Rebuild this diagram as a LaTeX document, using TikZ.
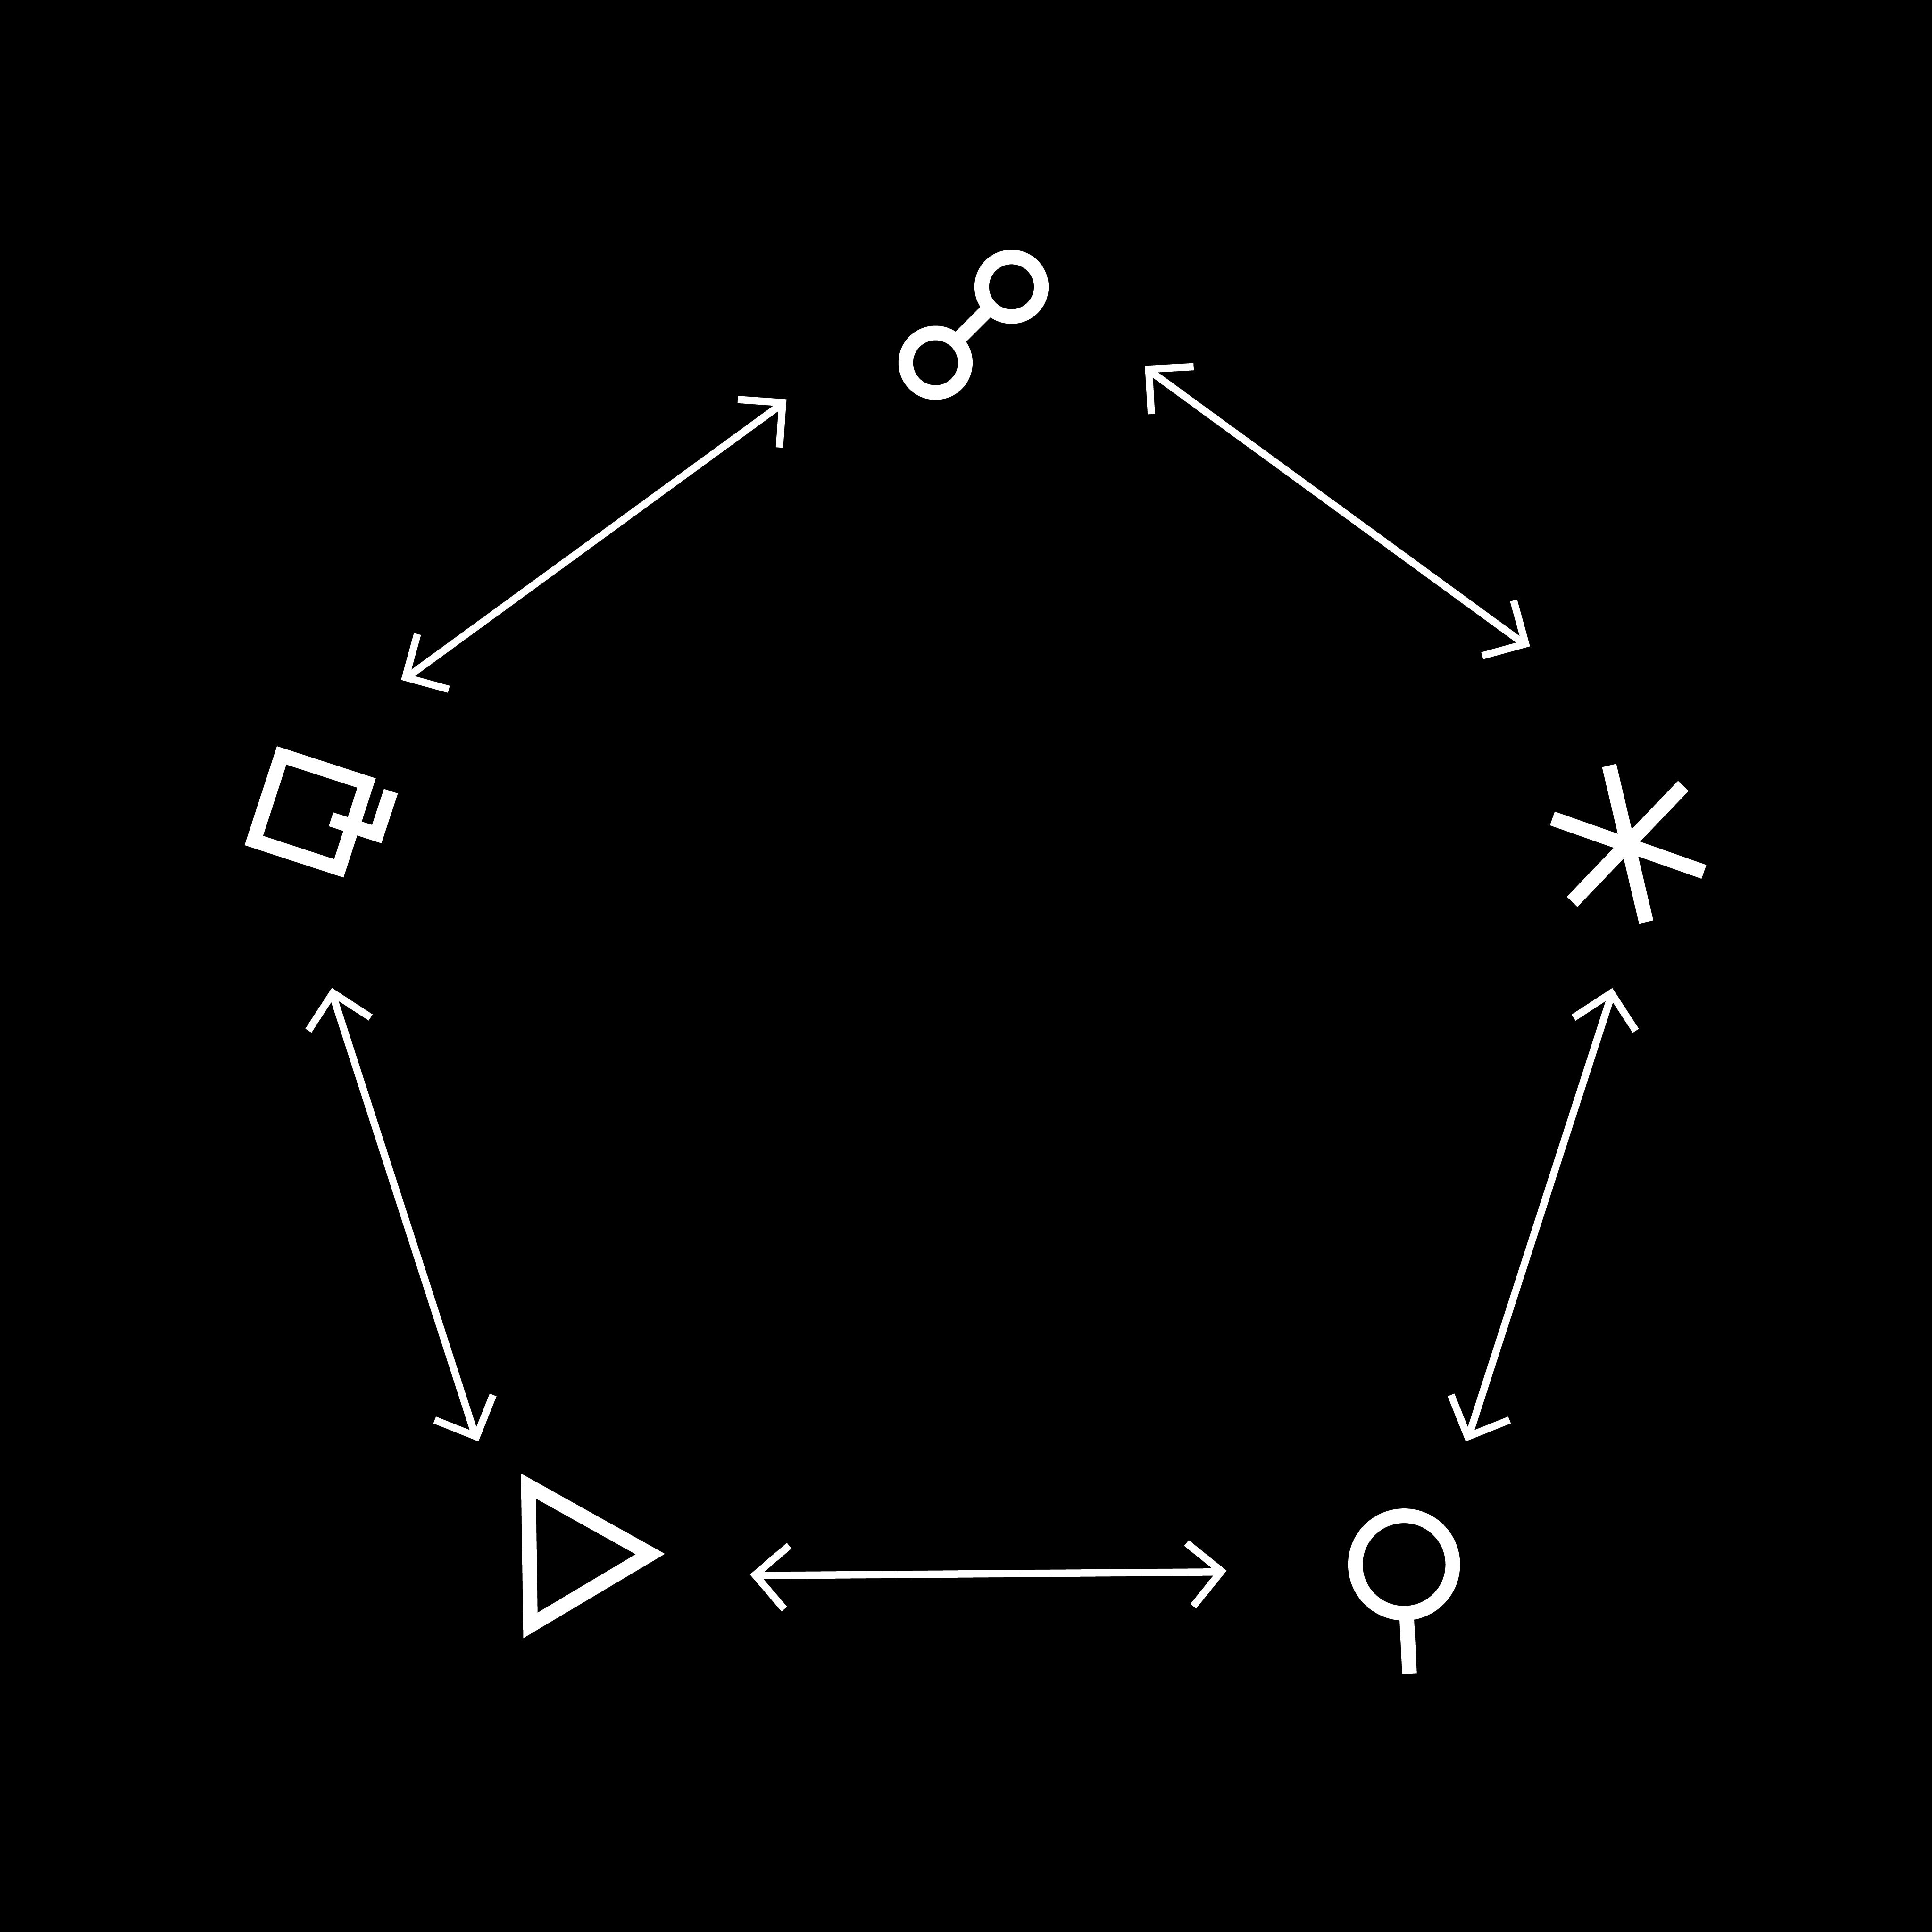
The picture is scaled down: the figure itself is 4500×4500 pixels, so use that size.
\documentclass[tikz,border=0pt]{standalone}
\usepackage{xcolor}
\usepackage{tikz}
\usetikzlibrary{arrows.meta}

\begin{document}
\begin{tikzpicture}[
        x=0.01cm, y=-0.01cm,
        glyph/.style={draw=white, line width=0.34cm, line join=miter},
        ring/.style={circle, draw=white, line width=0.34cm, inner sep=0pt, outer sep=0pt},
        arrow/.style={<->, >={Straight Barb[length=0.74cm, width=1.48cm]}, draw=white, line width=0.17cm}
        ]
        \fill[black] (0,0) rectangle (4500,4500);

        \node[ring, minimum size=1.386cm] (ringup) at (2356,668) {};
        \node[ring, minimum size=1.386cm] (ringdown) at (2179,845) {};
        \draw[glyph] (ringup.224.6) -- (ringdown.46.9);

        \node[ring, minimum size=2.268cm] (lolly) at (3270.3,3644) {};
        \coordinate (lollyend) at (3283,3898);
        \draw[glyph] (lolly) -- (lollyend);

        \draw[glyph] (656,1759.5) -- (853.8,1823.8) -- (789.2,2022.5) -- (591.2,1957.7) -- cycle;
        \draw[glyph] (771,1908.3) -- (877.5,1942.8) -- (910.5,1842.8);

        \draw[glyph] (1230.8,3461.2) -- (1514.7,3619.7) -- (1235.5,3785.8) -- cycle;

        \draw[glyph] (3748,1783) -- (3834.3,2147.7);
        \draw[glyph] (3920.7,1830.5) -- (3661.7,2100.5);
        \draw[glyph] (3615.7,1906.3) -- (3968.7,2030.7);

        \coordinate (nw1) at (934,1583.5);
        \coordinate (nw1k) at (960.1,1568.7);
        \coordinate (nw2k) at (1809.2,949.7);
        \coordinate (nw2) at (1831.9,930);
        \draw[arrow] (nw1) -- (nw1k) -- (nw2k) -- (nw2);

        \coordinate (ne1) at (2666.7,852);
        \coordinate (ne1k) at (2689.1,872);
        \coordinate (ne2k) at (3537.6,1490.6);
        \coordinate (ne2) at (3563.7,1505.4);
        \draw[arrow] (ne1) -- (ne1k) -- (ne2k) -- (ne2);

        \coordinate (se1) at (3755.3,2301.3);
        \coordinate (se1k) at (3749.1,2330.7);
        \coordinate (se2k) at (3425.8,3329.7);
        \coordinate (se2) at (3414,3357.3);
        \draw[arrow] (se1) -- (se1k) -- (se2k) -- (se2);

        \coordinate (sw1) at (773,2301);
        \coordinate (sw1k) at (779.2,2330.3);
        \coordinate (sw2k) at (1102.5,3329.7);
        \coordinate (sw2) at (1114.3,3357.3);
        \draw[arrow] (sw1) -- (sw1k) -- (sw2k) -- (sw2);

        \coordinate (bt1) at (1746.7,3667.3);
        \coordinate (bt1k) at (1776.6,3669.6);
        \coordinate (bt2k) at (2827.2,3661.5);
        \coordinate (bt2) at (2857,3658.3);
        \draw[arrow] (bt1) -- (bt1k) -- (bt2k) -- (bt2);
        \end{tikzpicture}
\end{document}
